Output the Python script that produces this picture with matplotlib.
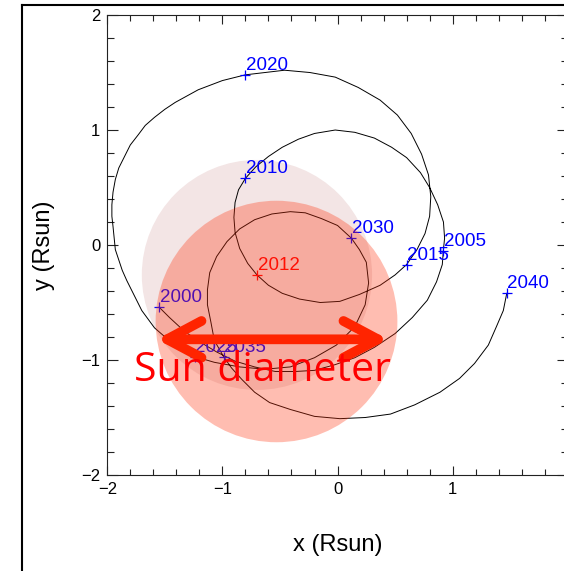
import numpy as np
import matplotlib.pyplot as plt
from matplotlib.patches import Circle
from matplotlib.lines import Line2D
from matplotlib.ticker import MultipleLocator

plt.rcParams['font.family'] = ['Liberation Sans', 'DejaVu Sans']

# path of the sun centre around the barycentre, 2000 -> 2040 (Rsun)
orbit_x = [-1.55, -1.46, -1.33, -1.20, -1.05, -0.89, -0.72, -0.54, -0.37, -0.20,
           -0.02, 0.15, 0.32, 0.50, 0.65, 0.78, 0.86, 0.91, 0.92,
           0.93, 0.92, 0.87, 0.80, 0.72, 0.60, 0.47, 0.32, 0.15, -0.02,
           -0.20, -0.34, -0.48, -0.60, -0.71, -0.80,
           -0.86, -0.89, -0.90, -0.89, -0.85, -0.78, -0.70, -0.60, -0.48, -0.33,
           -0.15, 0.02, 0.19, 0.37, 0.50, 0.60,
           0.69, 0.76, 0.80, 0.81, 0.79, 0.73, 0.64, 0.52, 0.37, 0.18,
           -0.02, -0.24, -0.46, -0.63, -0.80,
           -1.00, -1.21, -1.41, -1.50, -1.59, -1.67, -1.73, -1.80, -1.85, -1.90,
           -1.93, -1.95, -1.96, -1.96, -1.95, -1.94, -1.93,
           -1.90, -1.87, -1.83, -1.79, -1.70, -1.59, -1.44, -1.24,
           -1.07, -0.85, -0.63, -0.41, -0.20, -0.01, 0.15, 0.24, 0.27, 0.25,
           0.19, 0.12,
           0.00, -0.14, -0.28, -0.41, -0.57, -0.72, -0.85, -0.96, -1.05, -1.11,
           -1.13, -1.13, -1.10, -1.07, -0.99,
           -0.92, -0.83, -0.72, -0.59, -0.41, -0.20, 0.02, 0.24, 0.46, 0.67,
           0.89, 1.06, 1.19, 1.31, 1.38, 1.44, 1.47]
orbit_y = [-0.54, -0.63, -0.75, -0.84, -0.93, -1.01, -1.06, -1.10, -1.10, -1.09,
           -1.04, -0.98, -0.89, -0.77, -0.63, -0.48, -0.32, -0.17, -0.04,
           0.06, 0.20, 0.35, 0.50, 0.63, 0.76, 0.85, 0.93, 0.98, 1.00,
           0.97, 0.92, 0.85, 0.77, 0.68, 0.58,
           0.48, 0.37, 0.24, 0.11, -0.03, -0.16, -0.26, -0.35, -0.42, -0.47,
           -0.50, -0.49, -0.43, -0.35, -0.26, -0.17,
           -0.04, 0.10, 0.25, 0.42, 0.61, 0.79, 0.97, 1.13, 1.26, 1.37,
           1.46, 1.50, 1.52, 1.50, 1.48,
           1.43, 1.35, 1.24, 1.18, 1.11, 1.04, 0.96, 0.87, 0.77, 0.67,
           0.57, 0.46, 0.35, 0.25, 0.16, 0.06, -0.04,
           -0.13, -0.22, -0.31, -0.39, -0.57, -0.72, -0.85, -0.97,
           -1.02, -1.06, -1.08, -1.06, -0.98, -0.87, -0.71, -0.52, -0.33, -0.15,
           -0.04, 0.06,
           0.17, 0.23, 0.28, 0.29, 0.27, 0.22, 0.14, 0.03, -0.10, -0.24,
           -0.39, -0.52, -0.67, -0.83, -0.97,
           -1.07, -1.17, -1.28, -1.37, -1.43, -1.49, -1.51, -1.50, -1.47, -1.39,
           -1.28, -1.16, -1.03, -0.87, -0.71, -0.57, -0.42]

years = ['2000', '2005', '2010', '2012', '2015', '2020', '2025', '2030', '2035', '2040']
year_x = [-1.55, 0.92, -0.80, -0.70, 0.60, -0.80, -1.24, 0.12, -0.99, 1.47]
year_y = [-0.54, -0.05, 0.58, -0.26, -0.17, 1.48, -0.97, 0.06, -0.97, -0.42]
year_col = ['blue', 'blue', 'blue', 'red', 'blue', 'blue', 'blue', 'blue', 'blue', 'blue']

# sun disc at 2012 and the second disc
sun12_xy, sun12_r = (-0.70, -0.26), 1.0
sun2_xy, sun2_r = (-0.53, -0.665), 1.05

# "Sun diameter" arrow
arrow_x0, arrow_x1, arrow_y = -1.57, 0.44, -0.82

fig = plt.figure(figsize=(5.64, 5.71), dpi=100)
ax = fig.add_axes([0.1902, 0.1681, 0.8165, 0.8056])

ax.add_patch(Circle(sun12_xy, sun12_r, facecolor='#f3e5e5', edgecolor='none', zorder=1))
ax.plot(orbit_x, orbit_y, color='black', lw=0.7, zorder=2, solid_joinstyle='round')

for yr, x, y, c in zip(years, year_x, year_y, year_col):
    ax.plot(x, y, marker='+', color=c, ms=6.5, mew=0.9, zorder=3)
    ax.annotate(yr, (x, y), xytext=(0.5, 3.5), textcoords='offset points',
                color=c, fontsize=13.5, ha='left', va='baseline', zorder=3)

ax.add_patch(Circle(sun2_xy, sun2_r, facecolor=(1.0, 0.2, 0.05), alpha=0.32,
                    edgecolor='none', zorder=4))

ax.annotate('', xy=(arrow_x0, arrow_y), xytext=(arrow_x1, arrow_y),
            arrowprops=dict(arrowstyle='<->,head_length=0.45,head_width=0.24',
                            color='#ff2400', lw=7, mutation_scale=55,
                            shrinkA=0, shrinkB=0, capstyle='round', joinstyle='round'),
            zorder=6)
ax.text(-0.655, -1.183, 'Sun diameter', color='red', fontsize=29.5,
        family=['Open Sans', 'DejaVu Sans'], ha='center', va='baseline', zorder=6)

ax.set_xlim(-2, 2)
ax.set_ylim(-2, 2)
ax.set_xticks([-2, -1, 0, 1, 2])
ax.set_xticklabels(['\u22122', '\u22121', '0', '1', ''])
ax.set_yticks([-2, -1, 0, 1, 2])
ax.xaxis.set_minor_locator(MultipleLocator(0.2))
ax.yaxis.set_minor_locator(MultipleLocator(0.2))
ax.tick_params(which='both', direction='in', top=True, right=True, width=0.8,
               labelsize=12, color='#222222')
ax.tick_params(axis='x', which='major', length=6.8, pad=5)
ax.tick_params(axis='x', which='minor', length=4.2)
ax.tick_params(axis='y', which='major', length=8.2, pad=5)
ax.tick_params(axis='y', which='minor', length=5)
for sp in ax.spines.values():
    sp.set_linewidth(0.8)
    sp.set_color('#222222')

ax.set_xlabel('x (Rsun)', fontsize=17, va='center')
ax.xaxis.set_label_coords(0.5, -0.152)
ax.set_ylabel('y (Rsun)', fontsize=17, va='center')
ax.yaxis.set_label_coords(-0.1375, 0.5)

# window border of the screenshot
fig.add_artist(Line2D([21.5 / 564, 21.5 / 564], [0, 1 - 5 / 571],
                      transform=fig.transFigure, color='black', lw=1.5))
fig.add_artist(Line2D([21.5 / 564, 1], [1 - 5 / 571, 1 - 5 / 571],
                      transform=fig.transFigure, color='black', lw=1.5))

fig.savefig('out.png', dpi=100)
